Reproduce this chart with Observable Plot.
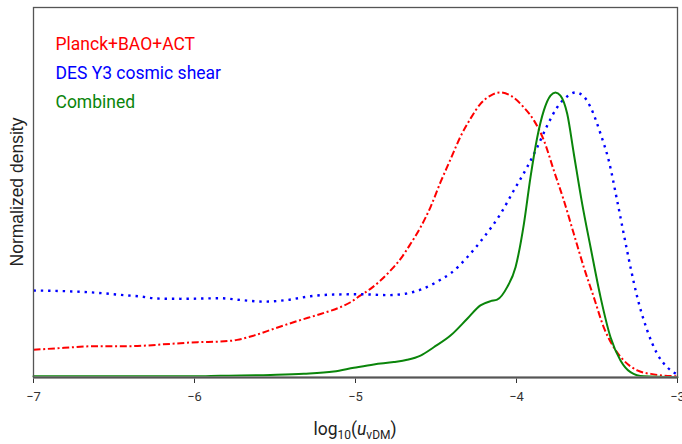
<!DOCTYPE html>
<html><head><meta charset="utf-8">
<script src="https://cdn.jsdelivr.net/npm/d3@7"></script>
<script src="https://cdn.jsdelivr.net/npm/@observablehq/plot@0.6"></script>
<style>body{margin:0;background:#fff} #chart svg{display:block}</style>
</head><body><div id="chart"></div>
<script>
const seriesNames = ["Planck+BAO+ACT", "DES Y3 cosmic shear", "Combined"];
const seriesColors = ["#ff0000", "#0000ff", "#0a850a"];
const xTicks = [-7, -6, -5, -4, -3];

const planckX = [-7.0, -6.81, -6.60, -6.40, -6.15, -5.98, -5.84, -5.735, -5.632, -5.507, -5.362, -5.217, -5.093, -5.031, -4.969, -4.907, -4.845, -4.783, -4.72, -4.658, -4.596, -4.534, -4.472, -4.41, -4.348, -4.286, -4.224, -4.161, -4.104, -4.037, -3.955, -3.892, -3.83, -3.768, -3.706, -3.644, -3.582, -3.52, -3.458, -3.396, -3.334, -3.25, -3.147, -3.0];
const planckY = [0.097, 0.104, 0.110, 0.110, 0.118, 0.124, 0.126, 0.132, 0.147, 0.171, 0.198, 0.223, 0.247, 0.264, 0.288, 0.311, 0.340, 0.375, 0.416, 0.469, 0.527, 0.598, 0.685, 0.765, 0.845, 0.908, 0.960, 0.989, 1.0, 0.989, 0.948, 0.902, 0.832, 0.726, 0.621, 0.504, 0.387, 0.282, 0.176, 0.106, 0.060, 0.025, 0.011, 0.004];

const desX = [-7.0, -6.81, -6.60, -6.46, -6.335, -6.23, -6.087, -5.84, -5.714, -5.57, -5.424, -5.28, -5.135, -4.969, -4.803, -4.689, -4.596, -4.515, -4.472, -4.41, -4.306, -4.203, -4.099, -4.017, -3.934, -3.871, -3.809, -3.747, -3.685, -3.634, -3.582, -3.54, -3.478, -3.427, -3.375, -3.334, -3.292, -3.25, -3.188, -3.126, -3.064, -3.0];
const desY = [0.305, 0.303, 0.297, 0.290, 0.284, 0.277, 0.276, 0.278, 0.272, 0.266, 0.272, 0.285, 0.291, 0.292, 0.289, 0.294, 0.308, 0.329, 0.343, 0.365, 0.422, 0.492, 0.574, 0.656, 0.738, 0.808, 0.884, 0.948, 0.986, 1.0, 0.986, 0.948, 0.855, 0.761, 0.621, 0.504, 0.387, 0.282, 0.165, 0.083, 0.036, 0.01];

const combX = [-7.0, -6.5, -6.0, -5.84, -5.528, -5.321, -5.135, -5.01, -4.886, -4.762, -4.679, -4.596, -4.514, -4.41, -4.306, -4.224, -4.161, -4.12, -4.058, -4.006, -3.954, -3.913, -3.871, -3.83, -3.789, -3.758, -3.727, -3.685, -3.644, -3.592, -3.54, -3.478, -3.416, -3.354, -3.292, -3.209, -3.0];
const combY = [0.004, 0.004, 0.004, 0.006, 0.009, 0.013, 0.021, 0.034, 0.046, 0.054, 0.062, 0.077, 0.106, 0.147, 0.206, 0.253, 0.268, 0.273, 0.317, 0.387, 0.539, 0.703, 0.843, 0.937, 0.989, 1.0, 0.989, 0.925, 0.785, 0.609, 0.457, 0.282, 0.141, 0.060, 0.019, 0.004, 0.001];

const rows = (xs, ys) => xs.map((x, i) => ({x, y: ys[i]}));
const planck = rows(planckX, planckY);
const des = rows(desX, desY);
const comb = rows(combX, combY);

const legendDy = [30, 59, 88];

const plot = Plot.plot({
  width: 682, height: 444,
  marginLeft: 33, marginRight: 5, marginTop: 7, marginBottom: 67,
  x: {domain: [-7, -3]},
  y: {domain: [0, 1.298], axis: null},
  style: {fontFamily: "Roboto, sans-serif", background: "#fff"},
  marks: [
    Plot.axisX({ticks: xTicks, tickSize: 6, tickPadding: 8, fontSize: 13, label: null, color: "#333",
      tickFormat: d => d < 0 ? "\u2212" + Math.abs(d) : String(d)}),
    Plot.line(planck, {x: "x", y: "y", stroke: seriesColors[0], strokeWidth: 2, strokeDasharray: "7,2.7,2,2.7", strokeLinecap: "butt", curve: "monotone-x"}),
    Plot.line(des, {x: "x", y: "y", stroke: seriesColors[1], strokeWidth: 2.4, strokeDasharray: "2.4,4.9", strokeLinecap: "butt", curve: "monotone-x"}),
    Plot.line(comb, {x: "x", y: "y", stroke: seriesColors[2], strokeWidth: 2, curve: "monotone-x"}),
    Plot.ruleY([0], {stroke: "#888", strokeWidth: 2.5}),
    Plot.frame({stroke: "#555", strokeWidth: 1.3}),
    ...seriesNames.map((name, i) => Plot.text([name], {
      text: d => d, frameAnchor: "top-left", textAnchor: "start", dx: 22, dy: legendDy[i],
      fill: seriesColors[i], fontSize: 17.5
    }))
  ]
});
document.getElementById("chart").appendChild(plot);

const svg = d3.select(plot);
const xs = plot.scale("x");
// y-axis label
svg.append("text")
  .attr("transform", `translate(18,${(7 + 377) / 2}) rotate(-90)`)
  .attr("text-anchor", "middle").attr("dominant-baseline", "middle")
  .attr("font-size", 17.5).attr("fill", "#222").attr("font-family", "'Liberation Sans', Arial, sans-serif")
  .text("Normalized density");
// x-axis label with subscripts
const xl = svg.append("text")
  .attr("x", (xs.apply(-7) + xs.apply(-3)) / 2).attr("y", 435)
  .attr("text-anchor", "middle").attr("font-size", 17.5).attr("fill", "#222")
  .attr("font-family", "Roboto, sans-serif");
xl.append("tspan").text("log");
xl.append("tspan").attr("dy", 4).attr("font-size", 12).text("10");
xl.append("tspan").attr("dy", -4).text("(");
xl.append("tspan").attr("font-style", "italic").text("u");
xl.append("tspan").attr("dy", 4).attr("font-size", 12).text("\u03BDDM");
xl.append("tspan").attr("dy", -4).text(")");
</script>
</body></html>
